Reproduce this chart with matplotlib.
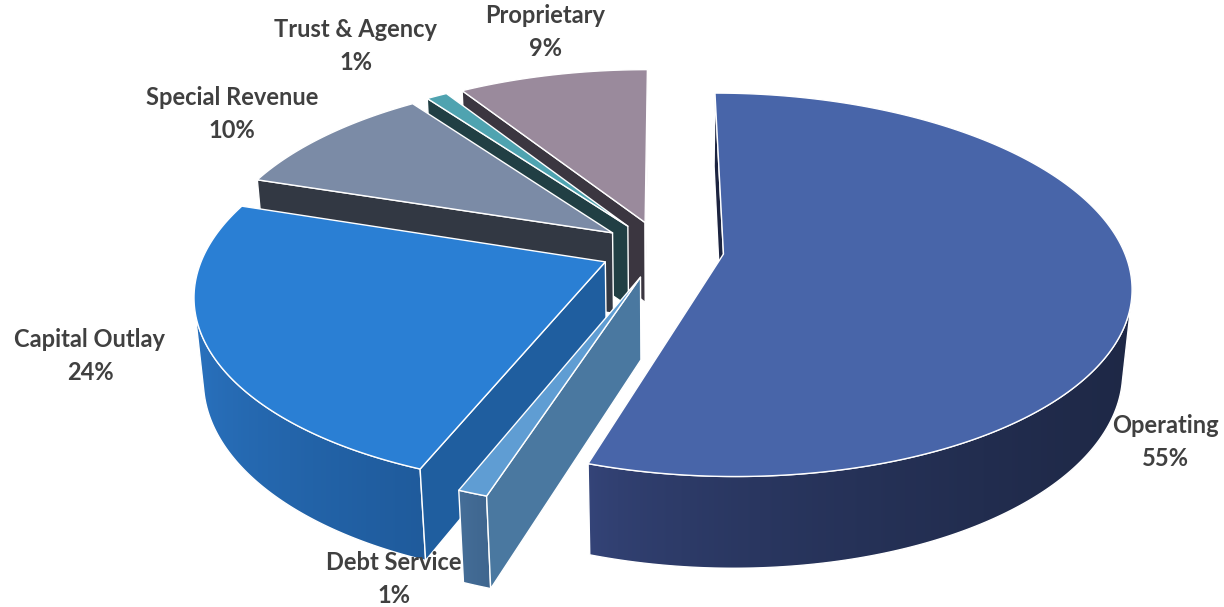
import numpy as np
import matplotlib
matplotlib.use("Agg")
import matplotlib.pyplot as plt
from matplotlib.patches import Polygon
from matplotlib.colors import to_rgb

# fund shares (percent), drawn clockwise from 12 o'clock
categories = ["Operating", "Debt Service", "Capital Outlay", "Special Revenue",
              "Trust & Agency", "Proprietary"]
shares = [55, 1, 24, 10, 1, 9]
pct_labels = ["55%", "1%", "24%", "10%", "1%", "9%"]

# top face, cut face, wall (light end), wall (dark end)
top_colors = ["#4865a9", "#5f9dd3", "#2a7fd4", "#7b8ba6", "#4fa3b0", "#9a8a9c"]
cut_colors = ["#1c2440", "#4a78a0", "#1f5e9f", "#323843", "#213f44", "#3b3640"]
wall_light = ["#35457a", "#46709a", "#2a73c0", "#4a5670", "#2d5f68", "#55485a"]
wall_dark = ["#1e2846", "#3f668f", "#1f5b9c", "#323843", "#213f44", "#3b3640"]

# label anchor (center of the two-line label), pixels
label_pos = [(1165, 442), (394, 579), (90, 356), (232, 114), (356, 46), (545, 32)]

# camera / layout
W, H = 1224, 607
ox, oy = 662, 249.5        # screen position of pie center
F = 2216.0                  # focal length in px
D = 5.54                    # camera distance (pie radius = 1)
elev = np.radians(27.6)
depth = 0.234               # slab thickness
explode = 0.155
cos_e, sin_e = np.cos(elev), np.sin(elev)
cam = np.array([0.0, -D * cos_e, D * sin_e])


def project(X, Y, Z):
    X = np.asarray(X, float)
    Y = np.asarray(Y, float)
    Z = np.asarray(Z, float)
    zc = D + Y * cos_e - Z * sin_e
    yc = Y * sin_e + Z * cos_e
    return ox + F * X / zc, oy - F * yc / zc


fig = plt.figure(figsize=(W / 100, H / 100), dpi=100)
ax = fig.add_axes([0, 0, 1, 1])
ax.axis("off")

edge = dict(edgecolor="white", linewidth=1.0, joinstyle="round")

bounds = np.concatenate([[0], np.cumsum(shares)]) / 100.0 * 360.0
slices = []
for i in range(len(shares)):
    t0, t1 = bounds[i], bounds[i + 1]
    mid = np.radians((t0 + t1) / 2)
    offx, offy = explode * np.sin(mid), explode * np.cos(mid)
    slices.append((i, t0, t1, offx, offy))

# back to front
slices.sort(key=lambda s: -s[4])

z = 1
for i, t0, t1, offx, offy in slices:
    n = max(int((t1 - t0) * 2), 4)
    th = np.radians(np.linspace(t0, t1, n + 1))

    # outer wall, only the part facing the camera, shaded left to right
    vis = (-np.sin(th) * offx - np.cos(th) * (D * cos_e + offy) - 1) > 0
    idx = np.where(vis)[0]
    if len(idx) > 1:
        tv = th[idx[0]:idx[-1] + 1]
        xt, yt = project(offx + np.sin(tv), offy + np.cos(tv), 0 * tv)
        xb, yb = project(offx + np.sin(tv), offy + np.cos(tv), 0 * tv - depth)
        outline = list(zip(xt, yt)) + list(zip(xb[::-1], yb[::-1]))
        xmin = min(xt.min(), xb.min())
        xmax = max(xt.max(), xb.max())
        ymin = min(yt.min(), yb.min())
        ymax = max(yt.max(), yb.max())
        t = np.linspace(0, 1, 256) ** 0.6
        a, b = np.array(to_rgb(wall_light[i])), np.array(to_rgb(wall_dark[i]))
        grad = (a[None, :] + (b - a)[None, :] * t[:, None])[None, :, :]
        im = ax.imshow(grad, extent=[xmin, xmax, ymax, ymin], aspect="auto",
                       interpolation="bilinear", zorder=z)
        clip = Polygon(outline, closed=True, transform=ax.transData)
        im.set_clip_path(clip)
        z += 1
        ax.add_patch(Polygon(outline, closed=True, fill=False, zorder=z, **edge))
        z += 1

    # radial cut faces
    cx0, cy0 = project(offx, offy, 0)
    cx1, cy1 = project(offx, offy, -depth)
    for ang, sign in ((t0, 1), (t1, -1)):
        r = np.radians(ang)
        nx, ny = -np.cos(r) * sign, np.sin(r) * sign
        if nx * (cam[0] - offx) + ny * (cam[1] - offy) <= 0:
            continue
        rx0, ry0 = project(offx + np.sin(r), offy + np.cos(r), 0)
        rx1, ry1 = project(offx + np.sin(r), offy + np.cos(r), -depth)
        ax.add_patch(Polygon([(cx0, cy0), (rx0, ry0), (rx1, ry1), (cx1, cy1)],
                             closed=True, facecolor=cut_colors[i], zorder=z, **edge))
        z += 1

    # top face
    xs, ys = project(offx + np.sin(th), offy + np.cos(th), 0 * th)
    pts = [(cx0, cy0)] + list(zip(xs, ys))
    ax.add_patch(Polygon(pts, closed=True, facecolor=top_colors[i], zorder=z, **edge))
    z += 1

for name, pct, (lx, ly) in zip(categories, pct_labels, label_pos):
    ax.text(lx, ly, f"{name}\n{pct}", ha="center", va="center",
            fontsize=17, fontweight="bold", color="#404040",
            family=["Lato", "DejaVu Sans"], linespacing=1.55, zorder=z)

ax.set_xlim(0, W)
ax.set_ylim(H, 0)
fig.savefig("out.png", dpi=100)
